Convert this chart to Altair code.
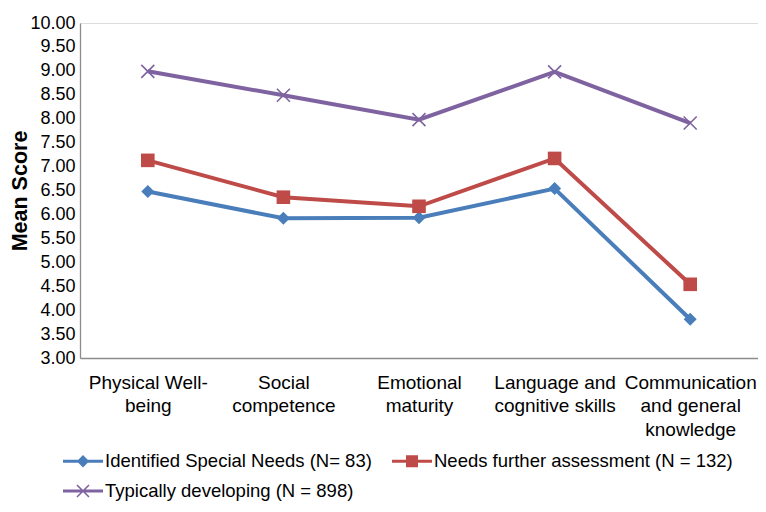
import altair as alt
import pandas as pd

categories = [
    "Physical Well-\nbeing",
    "Social\ncompetence",
    "Emotional\nmaturity",
    "Language and\ncognitive skills",
    "Communication\nand general\nknowledge",
]
series_names = [
    "Identified Special Needs (N= 83)",
    "Needs further assessment (N = 132)",
    "Typically developing (N = 898)",
]
identified = [6.48, 5.92, 5.93, 6.54, 3.81]
needs_assessment = [7.13, 6.36, 6.17, 7.17, 4.54]
typical = [8.99, 8.49, 7.98, 8.98, 7.91]
colors = ["#4A7EBB", "#BE4B48", "#7F63A1"]

FONT = "Liberation Sans"

rows = []
for name, vals in zip(series_names, [identified, needs_assessment, typical]):
    for c, v in zip(categories, vals):
        rows.append({"category": c, "series": name, "score": v})
df = pd.DataFrame(rows)

x_enc = alt.X(
    "category:N",
    sort=categories,
    scale=alt.Scale(type="point", padding=0.5),
    axis=alt.Axis(
        title=None,
        labelExpr="split(datum.label, '\\n')",
        labelAngle=0,
        labelFontSize=19,
        labelFont=FONT,
        labelColor="#000000",
        labelLineHeight=23.5,
        labelPadding=15,
        ticks=False,
        domainColor="#8c8c8c",
        domainWidth=1.3,
        grid=False,
        labelLimit=0,
    ),
)
y_enc = alt.Y(
    "score:Q",
    scale=alt.Scale(domain=[3, 10], nice=False, zero=False),
    axis=alt.Axis(
        title="Mean Score",
        titleFont=FONT,
        titleFontSize=21.5,
        titleFontWeight="bold",
        titleColor="#000000",
        titlePadding=-2,
        values=[3 + 0.5 * i for i in range(15)],
        format=".2f",
        labelFontSize=18,
        labelFont=FONT,
        labelColor="#000000",
        labelPadding=5,
        ticks=False,
        domainColor="#8c8c8c",
        domainWidth=1.3,
        grid=False,
    ),
)
# colour scale for lines/markers: domain comes from the data (sorted order = series order)
color_scale = alt.Scale(range=colors)

lines = alt.Chart(df).mark_line(strokeWidth=4).encode(
    x=x_enc, y=y_enc,
    color=alt.Color("series:N", scale=color_scale, legend=None),
    detail="series:N",
)

marker_shapes = ["diamond", "square", "M-1,-1L1,1M-1,1L1,-1"]
marker_sizes = [169, 185, 169]
marker_filled = [True, True, False]
point_layers = []
for name, shp, sz, fl in zip(series_names, marker_shapes, marker_sizes, marker_filled):
    point_layers.append(
        alt.Chart(df).transform_filter(alt.datum.series == name).mark_point(
            shape=shp, size=sz, filled=fl, opacity=1, strokeWidth=1.6
        ).encode(
            x=x_enc, y=y_enc,
            color=alt.Color("series:N", scale=color_scale, legend=None),
        )
    )

bar = "M-1,-0.08L1,-0.08L1,0.08L-1,0.08Z"
legend_paths = [
    bar + "M0,-0.31L0.31,0L0,0.31L-0.31,0Z",
    bar + "M-0.3,-0.3L0.3,-0.3L0.3,0.3L-0.3,0.3Z",
    bar + "M-0.272,-0.328L0.328,0.272L0.272,0.328L-0.328,-0.272Z"
    + "M-0.328,0.272L0.272,-0.328L0.328,-0.272L-0.272,0.328Z",
]

leg = alt.Legend(
    title=None,
    orient="none",
    legendX=-17,
    legendY=418,
    direction="horizontal",
    columns=2,
    symbolSize=1600,
    symbolStrokeWidth=0,
    symbolOpacity=1,
    labelFont=FONT,
    labelFontSize=18.5,
    labelColor="#000000",
    labelOffset=2,
    columnPadding=20,
    rowPadding=-2,
    padding=0,
    labelLimit=0,
)

legend_layer = alt.Chart(df).mark_point(
    filled=True, opacity=0
).encode(
    x=x_enc, y=y_enc,
    shape=alt.Shape("series:N", scale=alt.Scale(domain=series_names, range=legend_paths), legend=leg),
    fill=alt.Fill("series:N", scale=alt.Scale(domain=series_names, range=colors), legend=leg),
)

chart = alt.layer(lines, *point_layers, legend_layer).properties(
    width=678,
    height=335,
    padding={"left": 72, "top": 15, "right": 0, "bottom": 145},
    autosize=alt.AutoSizeParams(type="none"),
).configure_view(stroke=None).configure(background="white")

chart.save("out.html", embed_options={"renderer": "svg", "actions": False})
